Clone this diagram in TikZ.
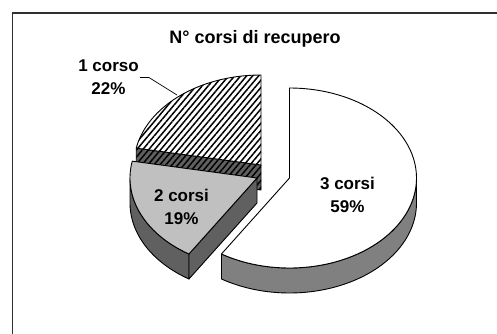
\documentclass[tikz,border=0pt]{standalone}
\usepackage{fontspec}
\setmainfont{Liberation Sans}
\usetikzlibrary{patterns.meta,calc}
\definecolor{darkside}{HTML}{606060}
\definecolor{midside}{HTML}{808080}
\definecolor{lightface}{HTML}{C0C0C0}
\definecolor{framecol}{HTML}{303030}
\tikzset{
  hatch/.style={pattern={Lines[angle=50,distance=4.6pt,line width=1.5pt]}, pattern color=black},
  outline/.style={draw=black, line width=0.9pt, line join=round},
  lbl/.style={font=\fontsize{17}{23}\selectfont\bfseries, align=center, inner sep=1pt},
}
\begin{document}
\begin{tikzpicture}[x=1pt,y=-1pt]
\useasboundingbox (0,0) rectangle (497,334);
% frame (top and left edges visible)
\draw[framecol, line width=1.4pt] (12.5,334) -- (12.5,13) -- (497,13);

% ---- slice "1 corso" (centre 261,165) ----
\coordinate (c1) at (261,165);
\coordinate (p1) at ({261+127*cos(169.2)},{165-90*sin(169.2)});
\path[preaction={fill=darkside}, hatch, outline]
  (c1) -- (p1) -- ++(0,25) -- ($(c1)+(0,25)$) -- cycle;
\path[preaction={fill=white}, hatch, outline]
  (c1) -- (261,75) -- plot[domain=90:169.2, samples=50] ({261+127*cos(\x)},{165-90*sin(\x)}) -- cycle;

% ---- slice "2 corsi" (centre 257,178) ----
\coordinate (c2) at (257,178);
\coordinate (q1) at ({257+127*cos(169.2)},{178-90*sin(169.2)});
\coordinate (q2) at ({257+127*cos(237.6)},{178-90*sin(237.6)});
\path[fill=darkside, outline]
  plot[domain=180:237.6, samples=40] ({257+127*cos(\x)},{178-90*sin(\x)})
  -- plot[domain=237.6:180, samples=40] ({257+127*cos(\x)},{203-90*sin(\x)}) -- cycle;
\path[fill=darkside, outline]
  (c2) -- (q2) -- ++(0,25) -- ($(c2)+(0,25)$) -- cycle;
\path[fill=lightface, outline]
  (c2) -- (q1) -- plot[domain=169.2:237.6, samples=50] ({257+127*cos(\x)},{178-90*sin(\x)}) -- cycle;

% ---- slice "3 corsi" (centre 289.5,178) ----
\coordinate (c3) at (289.5,178);
\path[fill=midside, outline]
  plot[domain=-122.4:0, samples=60] ({289.5+127*cos(\x)},{178-90*sin(\x)})
  -- plot[domain=0:-122.4, samples=60] ({289.5+127*cos(\x)},{203-90*sin(\x)}) -- cycle;
\path[fill=white, outline]
  (c3) -- (289.5,88) -- plot[domain=90:-122.4, samples=100] ({289.5+127*cos(\x)},{178-90*sin(\x)}) -- cycle;

% ---- labels ----
\node[font=\fontsize{18}{22}\selectfont\bfseries, anchor=base] (title) at (255,43.5) {N° corsi di recupero};
\node[lbl] (l1) at (108.5,77.5) {1 corso\\22\%};
\node[lbl] (l2) at (181.5,206.5) {2 corsi\\19\%};
\node[lbl] (l3) at (347.5,195) {3 corsi\\59\%};
\coordinate (leadend) at (177,95);
\draw[black, line width=0.7pt] (l1.east) -- ++(9,0) -- (leadend);
\end{tikzpicture}
\end{document}
